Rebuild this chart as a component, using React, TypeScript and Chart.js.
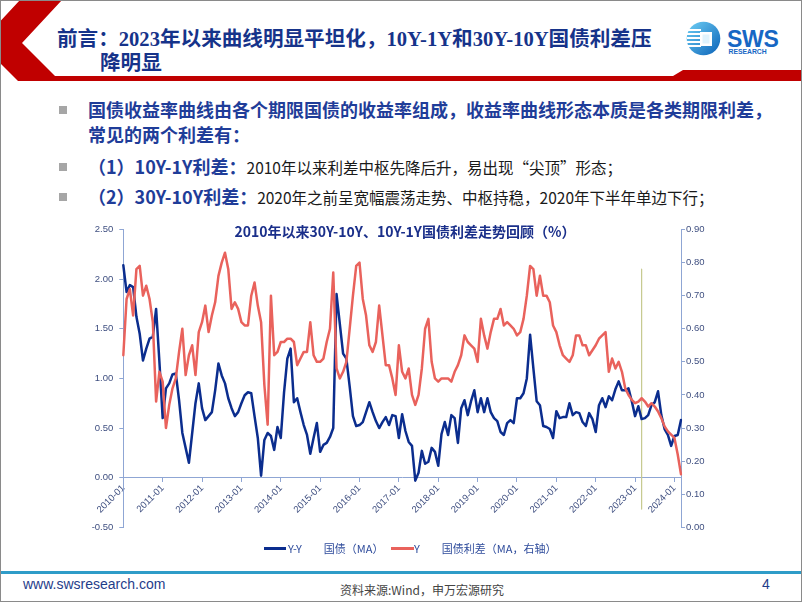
import React, { useEffect, useRef } from 'react';
import { Chart, registerables } from 'chart.js';

Chart.register(...registerables);

// ---------- data ----------
const startYear = 2010;
const monthCount = 171; // 2010-01 .. 2024-03
const months: string[] = [];
for (let i = 0; i < monthCount; i++) {
  const y = startYear + Math.floor(i / 12);
  const m = (i % 12) + 1;
  months.push(`${y}-${m < 10 ? '0' + m : m}`);
}

// 10Y-1Y spread (left axis), monthly readings
const spread10y1y: number[] = [
  2.14, 1.87, 1.94, 1.92, 1.62, 1.45, 1.18, 1.30, 1.40, 1.42, 1.70, 1.17,
  0.60, 0.90, 0.95, 1.04, 1.05, 0.78, 0.45, 0.30, 0.15, 0.45, 0.75, 0.95,
  0.70, 0.58, 0.62, 0.66, 0.88, 1.15, 1.03, 0.95, 0.80, 0.70, 0.62, 0.66,
  0.75, 0.83, 0.86, 0.85, 0.62, 0.40, 0.02, 0.38, 0.45, 0.42, 0.28, 0.51,
  0.40, 0.86, 1.20, 1.30, 0.76, 0.80, 0.66, 0.53, 0.43, 0.24, 0.40, 0.55,
  0.26, 0.33, 0.35, 0.41, 0.50, 1.85, 1.55, 1.25, 1.20, 0.92, 0.62, 0.52,
  0.53, 0.56, 0.66, 0.76, 0.66, 0.57, 0.50, 0.56, 0.61, 0.53, 0.63, 0.62,
  0.40, 0.64, 0.47, 0.36, 0.32, -0.03, 0.05, 0.27, 0.14, 0.16, 0.30, 0.26,
  0.12, 0.44, 0.56, 0.43, 0.63, 0.60, 0.35, 0.70, 0.78, 0.63, 0.77, 0.88,
  0.66, 0.80, 0.66, 0.80, 0.66, 0.60, 0.57, 0.46, 0.43, 0.55, 0.58, 0.55,
  0.80, 0.80, 0.85, 1.00, 1.44, 1.10, 0.77, 0.73, 0.52, 0.51, 0.49, 0.40,
  0.67, 0.60, 0.61, 0.61, 0.75, 0.63, 0.66, 0.65, 0.56, 0.52, 0.65, 0.59,
  0.46, 0.73, 0.80, 0.71, 0.82, 0.78, 0.89, 0.97, 0.88, 0.88, 0.90, 0.77,
  0.62, 0.72, 0.59, 0.60, 0.63, 0.73, 0.76, 0.87, 0.63, 0.49, 0.43, 0.32,
  0.42, 0.43, 0.58,
];

// 30Y-10Y spread (right axis), monthly readings
const spread30y10y: number[] = [
  0.52, 0.69, 0.72, 0.64, 0.78, 0.79, 0.70, 0.73, 0.69, 0.62, 0.38, 0.47,
  0.44, 0.30, 0.37, 0.42, 0.45, 0.53, 0.60, 0.46, 0.52, 0.55, 0.46, 0.59,
  0.62, 0.67, 0.59, 0.64, 0.68, 0.76, 0.80, 0.83, 0.78, 0.66, 0.68, 0.66,
  0.62, 0.61, 0.61, 0.70, 0.74, 0.67, 0.62, 0.43, 0.31, 0.70, 0.52, 0.53,
  0.56, 0.56, 0.57, 0.57, 0.56, 0.49, 0.51, 0.53, 0.53, 0.62, 0.52, 0.50,
  0.50, 0.51, 0.56, 0.60, 0.77, 0.48, 0.45, 0.47, 0.50, 0.60, 0.70, 0.79,
  0.80, 0.69, 0.64, 0.55, 0.53, 0.56, 0.67, 0.58, 0.49, 0.49, 0.45, 0.40,
  0.55, 0.47, 0.45, 0.48, 0.40, 0.37, 0.40, 0.48, 0.60, 0.63, 0.50, 0.45,
  0.44, 0.45, 0.45, 0.45, 0.44, 0.47, 0.49, 0.52, 0.58, 0.56, 0.55, 0.54,
  0.50, 0.63, 0.58, 0.54, 0.59, 0.63, 0.63, 0.66, 0.61, 0.62, 0.61, 0.60,
  0.58, 0.59, 0.63, 0.70, 0.79, 0.78, 0.70, 0.76, 0.70, 0.70, 0.68, 0.61,
  0.59, 0.55, 0.52, 0.51, 0.50, 0.52, 0.58, 0.58, 0.55, 0.55, 0.52, 0.535,
  0.55, 0.57, 0.58, 0.59, 0.47, 0.51, 0.48, 0.50, 0.47, 0.42, 0.40, 0.385,
  0.375, 0.38, 0.39, 0.38, 0.365, 0.375, 0.365, 0.35, 0.33, 0.305, 0.29, 0.28,
  0.27, 0.22, 0.16,
];

// vertical marker line (right axis values)
const markerMonth = '2023-03';
const markerRange: number[] = [0.78, 0.055];

const leftAxis = { min: -0.5, max: 2.5, step: 0.5 };
const rightAxis = { min: 0, max: 0.9, step: 0.1 };

const seriesNames = ['Y-Y\u3000\u3000国债（MA）', 'Y\u3000\u3000国债利差（MA，右轴）'];

// ---------- styles ----------
const BLUE = '#0b2d8e';
const RED = '#e9625c';
const OLIVE = '#c6c98e';
const AXIS = '#8fa6d4';
const TICK = '#3f4f80';
const CJK = '"Noto Sans CJK SC", "Liberation Sans", sans-serif';

function ChartCanvas() {
  const ref = useRef<HTMLCanvasElement>(null);
  useEffect(() => {
    if (!ref.current) return;
    const tickFont = { family: '"Liberation Sans", Arial, sans-serif', size: 9.5 };
    const chart = new Chart(ref.current, {
      type: 'line',
      data: {
        labels: months,
        datasets: [
          {
            label: seriesNames[1],
            data: spread30y10y,
            yAxisID: 'y1',
            borderColor: RED,
            borderWidth: 2.5,
            pointRadius: 0,
            tension: 0,
            order: 0,
          },
          {
            label: seriesNames[0],
            data: spread10y1y,
            yAxisID: 'y',
            borderColor: BLUE,
            borderWidth: 2.5,
            pointRadius: 0,
            tension: 0,
            order: 1,
          },
          {
            label: 'marker',
            data: markerRange.map((v) => ({ x: markerMonth, y: v })) as any,
            yAxisID: 'y1',
            borderColor: OLIVE,
            borderWidth: 1.2,
            pointRadius: 0,
            order: 2,
          },
        ],
      },
      options: {
        responsive: false,
        devicePixelRatio: 1,
        animation: false,
        events: [],
        layout: { padding: { top: 19.5, bottom: 22.7, left: 0, right: 0 } },
        plugins: { legend: { display: false }, tooltip: { enabled: false }, title: { display: false } },
        elements: { line: { borderJoinStyle: 'round', borderCapStyle: 'round' } },
        scales: {
          x: {
            type: 'category',
            position: { y: 0 } as any,
            ticks: {
              autoSkip: false,
              maxRotation: 45,
              minRotation: 45,
              padding: 1,
              color: TICK,
              font: tickFont,
              callback: (_v: any, i: number) => (months[i].endsWith('-01') ? months[i] : ''),
            },
            grid: {
              drawOnChartArea: false,
              tickLength: 4,
              color: (ctx: any) => (months[ctx.index] && months[ctx.index].endsWith('-01') ? AXIS : 'rgba(0,0,0,0)'),
            },
            border: { color: AXIS, width: 1 },
          },
          y: {
            position: 'left',
            min: leftAxis.min,
            max: leftAxis.max,
            ticks: {
              stepSize: leftAxis.step,
              color: TICK,
              font: tickFont,
              padding: 6,
              callback: (v: any) => Number(v).toFixed(2),
            },
            grid: { drawOnChartArea: false, tickLength: 4, color: AXIS },
            border: { color: AXIS, width: 1 },
            afterFit: (s: any) => {
              s.width = 63.3;
            },
          },
          y1: {
            position: 'right',
            min: rightAxis.min,
            max: rightAxis.max,
            ticks: {
              stepSize: rightAxis.step,
              color: TICK,
              font: tickFont,
              padding: 1,
              callback: (v: any) => Number(v).toFixed(2),
            },
            grid: { drawOnChartArea: false, tickLength: 4, color: AXIS },
            border: { color: AXIS, width: 1 },
            afterFit: (s: any) => {
              s.width = 69;
            },
          },
        },
      } as any,
    });
    return () => chart.destroy();
  }, []);
  return (
    <canvas
      ref={ref}
      width={690}
      height={340}
      style={{ position: 'absolute', left: 60, top: 210, width: 690, height: 340 }}
    />
  );
}

function abs(left: number, top: number, extra: React.CSSProperties = {}): React.CSSProperties {
  return { position: 'absolute', left, top, whiteSpace: 'nowrap', ...extra };
}

function Bullet({ top }: { top: number }) {
  return <div style={abs(59, top, { width: 8, height: 8, background: '#a6a6a6' })} />;
}

export default function App() {
  const boldBlue: React.CSSProperties = { fontWeight: 700, color: '#1f3d99' };
  return (
    <div
      style={{
        position: 'absolute',
        left: 0,
        top: 0,
        width: 802,
        height: 602,
        background: '#fff',
        overflow: 'hidden',
        fontFamily: CJK,
      }}
    >
      {/* header decoration */}
      <svg width={802} height={90} style={{ position: 'absolute', left: 0, top: 0 }}>
        <polygon
          points="20,0 62,0 22,43 55,76 673,76 683,70 802,70 802,81 18,81 0,63 0,21.5"
          fill="#c00000"
        />
        <defs>
          <linearGradient id="lg" x1="0" y1="0" x2="1" y2="1">
            <stop offset="0" stopColor="#6fd0f5" />
            <stop offset="1" stopColor="#0a62b8" />
          </linearGradient>
        </defs>
        <circle cx={703.5} cy={38.5} r={16.8} fill="url(#lg)" />
        {[29, 33, 37, 41, 45].map((y) => (
          <rect key={y} x={687} y={y} width={14} height={2} fill="#ffffff" />
        ))}
        <rect x={700} y={32} width={12} height={14} fill="#ffffff" />
        <rect x={702.5} y={34.5} width={7} height={9} fill="#dff3fd" />
      </svg>
      <div style={abs(727, 27.5, { fontFamily: '"Liberation Sans", Arial, sans-serif', fontWeight: 700, fontSize: 23, lineHeight: '23px', color: '#1767c4', letterSpacing: -0.3 })}>
        SWS
      </div>
      <div style={abs(728.5, 47.5, { fontFamily: '"Liberation Sans", Arial, sans-serif', fontWeight: 700, fontSize: 6.8, lineHeight: '7px', color: '#1767c4' })}>
        RESEARCH
      </div>

      {/* title */}
      <div style={abs(57, 27, { fontFamily: '"Liberation Serif", "Noto Sans CJK SC", serif', fontWeight: 700, fontSize: 20.6, lineHeight: '25px', color: '#16338a' })}>
        前言：2023年以来曲线明显平坦化，10Y-1Y和30Y-10Y国债利差压
      </div>
      <div style={abs(100, 51, { fontFamily: '"Liberation Serif", "Noto Sans CJK SC", serif', fontWeight: 700, fontSize: 20.6, lineHeight: '25px', color: '#16338a' })}>
        降明显
      </div>

      {/* bullets */}
      <Bullet top={106} />
      <Bullet top={163} />
      <Bullet top={193} />
      <div style={abs(88, 97, { ...boldBlue, fontSize: 18, lineHeight: '25px' })}>
        国债收益率曲线由各个期限国债的收益率组成，收益率曲线形态本质是各类期限利差，
      </div>
      <div style={abs(88, 122, { ...boldBlue, fontSize: 18, lineHeight: '25px' })}>常见的两个利差有：</div>
      <div style={abs(88, 154, { fontSize: 15.5, lineHeight: '25px', color: '#1a1a1a' })}>
        <span style={{ ...boldBlue, fontSize: 18 }}>（1）10Y-1Y利差：</span>
        2010年以来利差中枢先降后升，易出现“尖顶”形态；
      </div>
      <div style={abs(88, 184, { fontSize: 15.5, lineHeight: '25px', color: '#1a1a1a' })}>
        <span style={{ ...boldBlue, fontSize: 18 }}>（2）30Y-10Y利差：</span>
        2020年之前呈宽幅震荡走势、中枢持稳，2020年下半年单边下行；
      </div>

      {/* chart */}
      <ChartCanvas />
      <div style={abs(0, 222, { width: 810, textAlign: 'center', fontWeight: 700, fontSize: 14, lineHeight: '18px', color: '#1a2f8a' })}>
        2010年以来30Y-10Y、10Y-1Y国债利差走势回顾（%）
      </div>

      {/* legend */}
      <div style={abs(264, 547, { width: 22, height: 3, background: BLUE })} />
      <div style={abs(288, 540, { fontSize: 11, lineHeight: '16px', color: '#2f4c9c' })}>{seriesNames[0]}</div>
      <div style={abs(391, 547, { width: 23, height: 3, background: RED })} />
      <div style={abs(414, 540, { fontSize: 11, lineHeight: '16px', color: '#2f4c9c' })}>{seriesNames[1]}</div>

      {/* footer */}
      <div style={abs(0, 571, { width: 802, height: 2.5, background: '#2f9cc8' })} />
      <div style={abs(23, 576, { fontFamily: '"Liberation Sans", Arial, sans-serif', fontSize: 14, lineHeight: '16px', color: '#1f3d8a' })}>
        www.swsresearch.com
      </div>
      <div style={abs(340, 582, { fontSize: 12, lineHeight: '16px', color: '#444' })}>资料来源:Wind，申万宏源研究</div>
      <div style={abs(762, 576, { fontFamily: '"Liberation Sans", Arial, sans-serif', fontSize: 14, lineHeight: '16px', color: '#1f3d8a' })}>
        4
      </div>

      {/* slide border */}
      <div style={{ position: 'absolute', left: 0, top: 0, width: 802, height: 602, boxSizing: 'border-box', border: '1px solid #8a8a8a', pointerEvents: 'none' }} />
    </div>
  );
}
